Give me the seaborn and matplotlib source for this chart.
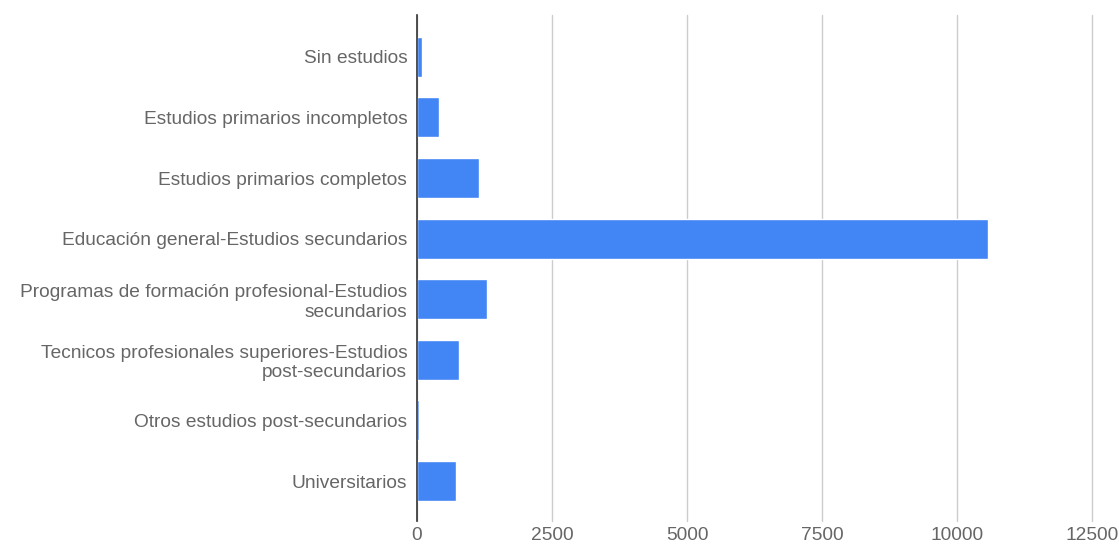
import matplotlib
matplotlib.use("Agg")
import matplotlib.pyplot as plt
import seaborn as sns
import pandas as pd

categories = [
    "Sin estudios",
    "Estudios primarios incompletos",
    "Estudios primarios completos",
    "Educación general-Estudios secundarios",
    "Programas de formación profesional-Estudios\nsecundarios",
    "Tecnicos profesionales superiores-Estudios\npost-secundarios",
    "Otros estudios post-secundarios",
    "Universitarios",
]
values = [100, 400, 1140, 10570, 1290, 785, 30, 722]
xticks = [0, 2500, 5000, 7500, 10000, 12500]

sns.set_theme(style="white")
plt.rcParams["font.family"] = ["Liberation Sans", "DejaVu Sans"]

df = pd.DataFrame({"cat": categories, "val": values})

fig = plt.figure(figsize=(11.19, 5.46), dpi=100)
ax = fig.add_axes([417 / 1119, 1 - 521 / 546, (1092 - 417) / 1119, (521 - 15) / 546])

sns.barplot(data=df, x="val", y="cat", orient="h", color="#4285F4",
            saturation=1, width=0.66, ax=ax, zorder=3)

ax.set_xlim(0, 12500)
ax.set_ylim(7.66, -0.69)
ax.set_xticks(xticks)
ax.set_xticklabels([str(t) for t in xticks])
ax.grid(axis="x", color="#cccccc", linewidth=1, zorder=0)
ax.grid(axis="y", visible=False)
for gl in ax.get_xgridlines():
    gl.set_clip_on(False)
for s in ["top", "right", "bottom"]:
    ax.spines[s].set_visible(False)
ax.spines["left"].set_color("#333333")
ax.spines["left"].set_linewidth(1.2)
ax.spines["left"].set_zorder(4)
ax.set_xlabel("")
ax.set_ylabel("")
ax.tick_params(axis="y", length=0, labelsize=13.8, labelcolor="#666666", pad=7)
ax.tick_params(axis="x", length=0, labelsize=13.8, labelcolor="#666666", pad=4)
for lbl in ax.get_yticklabels():
    lbl.set_multialignment("right")
    lbl.set_linespacing(1.2)
for lbl in ax.get_xticklabels():
    lbl.set_clip_on(False)

fig.savefig("out.png", dpi=100, facecolor="white")
